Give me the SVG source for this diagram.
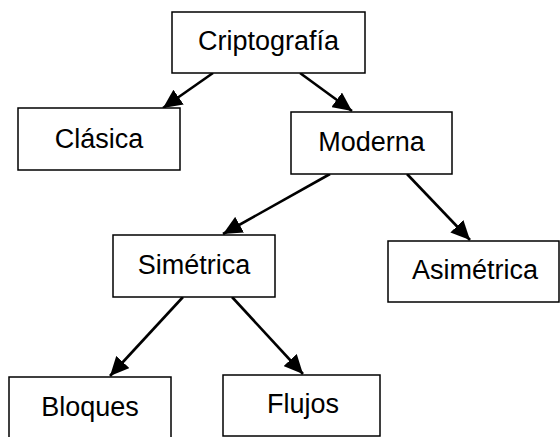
<svg xmlns="http://www.w3.org/2000/svg" width="560" height="437" viewBox="0 0 560 437">
<style>
.box{fill:#fff;stroke:#000;stroke-width:1.5}
.lbl{font-family:"Liberation Sans",Arial,sans-serif;font-size:27px;fill:#000;text-anchor:middle}
.con{stroke:#000;stroke-width:2.6;fill:none;marker-end:url(#ah)}
</style>
<defs>
<marker id="ah" markerUnits="userSpaceOnUse" markerWidth="20" markerHeight="18" refX="19" refY="9" orient="auto">
<path d="M0,0 L19,9 L0,18 z" fill="#000"/>
</marker>
</defs>
<rect width="560" height="437" fill="#fff"/>
<g id="connectors">
<line class="con" x1="213" y1="73" x2="163" y2="108"/>
<line class="con" x1="300" y1="73" x2="352" y2="111"/>
<line class="con" x1="330" y1="174" x2="223" y2="234"/>
<line class="con" x1="407" y1="174" x2="470" y2="240"/>
<line class="con" x1="183" y1="297" x2="110" y2="376"/>
<line class="con" x1="232" y1="297" x2="303" y2="374"/>
</g>
<g id="criptografia"><rect class="box" x="172" y="12" width="193" height="61"/><text class="lbl" x="268.5" y="50">Criptografía</text></g>
<g id="clasica"><rect class="box" x="18" y="108" width="162" height="62"/><text class="lbl" x="99" y="148">Clásica</text></g>
<g id="moderna"><rect class="box" x="291" y="112" width="161" height="62"/><text class="lbl" x="371.5" y="151">Moderna</text></g>
<g id="simetrica"><rect class="box" x="113" y="235" width="162" height="62"/><text class="lbl" x="194" y="274">Simétrica</text></g>
<g id="asimetrica"><rect class="box" x="388" y="241" width="171" height="61"/><text class="lbl" x="475" y="279">Asimétrica</text></g>
<g id="bloques"><rect class="box" x="9" y="377" width="162" height="64"/><text class="lbl" x="90" y="416">Bloques</text></g>
<g id="flujos"><rect class="box" x="223" y="375" width="157" height="61"/><text class="lbl" x="303" y="413">Flujos</text></g>
</svg>
